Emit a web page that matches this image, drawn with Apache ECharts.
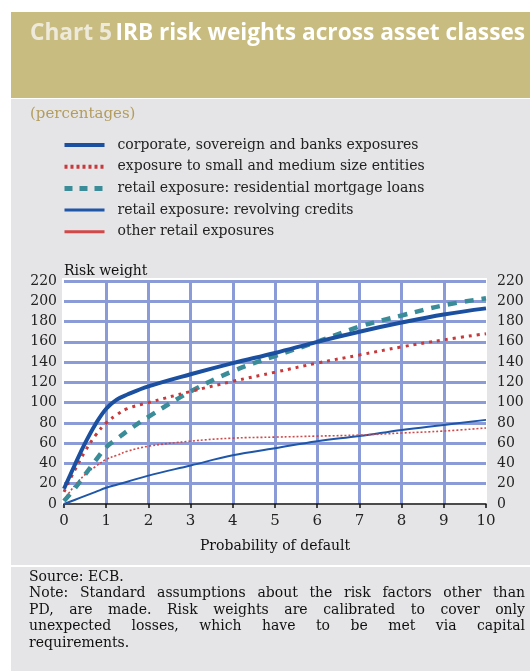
<!DOCTYPE html>
<html>
<head>
<meta charset="utf-8">
<script src="https://cdn.jsdelivr.net/npm/echarts@6/dist/echarts.min.js"></script>
<style>html,body{margin:0;padding:0;background:#fff;}#c{width:530px;height:671px;}</style>
</head>
<body>
<div id="c"></div>
<script>
// ---- data ----
var pd = [0, 0.25, 0.5, 0.75, 1, 1.25, 1.5, 2, 3, 4, 5, 6, 7, 8, 9, 10];
var corporate = [15, 38, 60, 79, 94, 103, 108, 116, 128, 139, 149, 160, 170, 179, 187, 193];
var sme       = [12, 33, 52, 68, 80, 88, 94, 100, 111, 121, 130, 139, 147, 155, 162, 168];
var mortgage  = [3, 15, 29, 43, 56, 64, 72, 86, 111, 131, 146, 160, 175, 186, 196, 203];
var revolving = [0, 4, 8, 12, 16, 19, 22, 28, 38, 48, 55, 62, 67, 73, 78, 83];
var otherRet  = [4, 18, 29, 37, 44, 48, 52, 57, 62, 65, 66, 67, 68, 70, 72, 75];
var seriesNames = [
  'corporate, sovereign and banks exposures',
  'exposure to small and medium size entities',
  'retail exposure: residential mortgage loans',
  'retail exposure: revolving credits',
  'other retail exposures'
];
var yTicks = [0, 20, 40, 60, 80, 100, 120, 140, 160, 180, 200, 220];
var xTicks = [0, 1, 2, 3, 4, 5, 6, 7, 8, 9, 10];
var titleA = 'Chart 5';
var titleB = 'IRB risk weights across asset classes';
var noteLines = [
  'Source: ECB.',
  'Note: Standard assumptions about the risk factors other than',
  'PD, are made. Risk weights are calibrated to cover only',
  'unexpected losses, which have to be met via capital',
  'requirements.'
];

function pairs(ys){ return pd.map(function(x,i){ return [x, ys[i]]; }); }

var SERIF = "'DejaVu Serif'";
var GRIDC = '#8a9bd8';

// justified footer
var canvas = document.createElement('canvas');
var ctx = canvas.getContext('2d');
var noteFont = '14px ' + SERIF;
ctx.font = noteFont;
var noteEls = [];
var nx0 = 29, nx1 = 525, ny0 = 578, nlh = 16.6;
noteLines.forEach(function(line, li){
  var y = ny0 + li * nlh;
  var justify = (li >= 1 && li <= 3);
  if (!justify) {
    noteEls.push({type:'text', left: nx0, top: y - 8, style:{text: line, font: noteFont, fill:'#111'}});
    return;
  }
  var words = line.split(' ');
  var widths = words.map(function(w){ return ctx.measureText(w).width; });
  var total = widths.reduce(function(a,b){return a+b;},0);
  var gap = (nx1 - nx0 - total) / (words.length - 1);
  var x = nx0;
  words.forEach(function(w, wi){
    noteEls.push({type:'text', left: x, top: y - 8, style:{text: w, font: noteFont, fill:'#111'}});
    x += widths[wi] + gap;
  });
});

var chart = echarts.init(document.getElementById('c'), null, {renderer:'canvas'});
chart.setOption({
  backgroundColor: '#ffffff',
  animation: false,
  graphic: [
    {type:'rect', left: 11, top: 12, shape:{width: 519, height: 86}, style:{fill:'#c9bc80'}, z: -10},
    {type:'rect', left: 11, top: 99, shape:{width: 519, height: 466}, style:{fill:'#e5e5e7'}, z: -10},
    {type:'rect', left: 11, top: 567, shape:{width: 519, height: 104}, style:{fill:'#e5e5e7'}, z: -10},
    {type:'rect', left: 62, top: 278, shape:{width: 425, height: 227}, style:{fill:'#ffffff'}, z: -5},
    {type:'text', left: 30, top: 22, style:{
      text: '{a|' + titleA + '} {b|' + titleB + '}',
      rich: {
        a: {font: "bold 22.7px 'Open Sans'", fill: '#eeeadb'},
        b: {font: "bold 22.7px 'Open Sans'", fill: '#ffffff'}
      }
    }},
    {type:'text', left: 30, top: 107, style:{text:'(percentages)', font: '15px ' + SERIF, fill:'#b39c5c'}}
  ].concat(noteEls),
  legend: {
    orient: 'vertical',
    left: 62, top: 138, padding: 0,
    itemWidth: 40, itemHeight: 14, itemGap: 7.7,
    itemStyle: {opacity: 0},
    textStyle: {fontFamily: 'DejaVu Serif', fontSize: 14, color: '#222', padding: [0,0,0,8]},
    data: [
      {name: seriesNames[0], lineStyle: {width: 4}},
      {name: seriesNames[1], lineStyle: {width: 4, type: [3, 3]}},
      {name: seriesNames[2], lineStyle: {width: 5, type: [8, 7]}},
      {name: seriesNames[3], lineStyle: {width: 3}},
      {name: seriesNames[4], lineStyle: {width: 3, type: 'solid'}}
    ]
  },
  grid: {left: 64, right: 44, top: 281, bottom: 167, show: false},
  xAxis: {
    type: 'value', min: 0, max: 10, interval: 1,
    name: 'Probability of default', nameLocation: 'middle', nameGap: 30,
    nameTextStyle: {fontFamily: 'DejaVu Serif', fontSize: 14, color: '#111'},
    offset: 5,
    axisLine: {show: true, lineStyle: {color: '#111', width: 1.5}},
    axisTick: {show: true, length: 4, lineStyle: {color: '#111', width: 1.5}},
    axisLabel: {fontFamily: 'DejaVu Serif', fontSize: 15, color: '#222', margin: 5,
      formatter: function(v){ return xTicks.indexOf(v) >= 0 ? String(v) : ''; }},
    splitLine: {show: true, showMinLine: false, showMaxLine: false, lineStyle: {color: GRIDC, width: 3}}
  },
  yAxis: [
    {
      type: 'value', min: 0, max: 220, interval: 20,
      name: 'Risk weight', nameLocation: 'end', nameGap: 3,
      nameTextStyle: {fontFamily: 'DejaVu Serif', fontSize: 14, color: '#111', align: 'left', verticalAlign: 'bottom'},
      axisLine: {show: false}, axisTick: {show: false},
      axisLabel: {fontFamily: 'DejaVu Serif', fontSize: 14, color: '#222', margin: 7,
        formatter: function(v){ return yTicks.indexOf(v) >= 0 ? String(v) : ''; }},
      splitLine: {show: true, showMinLine: false, showMaxLine: true, lineStyle: {color: GRIDC, width: 3}}
    },
    {
      type: 'value', min: 0, max: 220, interval: 20, position: 'right',
      axisLine: {show: false}, axisTick: {show: false},
      axisLabel: {fontFamily: 'DejaVu Serif', fontSize: 14, color: '#222', margin: 11,
        formatter: function(v){ return yTicks.indexOf(v) >= 0 ? String(v) : ''; }},
      splitLine: {show: false}
    }
  ],
  series: [
    {name: seriesNames[0], type: 'line', data: pairs(corporate), smooth: 0.4, symbol: 'none', z: 5,
      lineStyle: {color: '#1b4f9f', width: 4}, itemStyle: {color: '#1b4f9f'}},
    {name: seriesNames[1], type: 'line', data: pairs(sme), smooth: 0.4, symbol: 'none', z: 4,
      lineStyle: {color: '#c8393b', width: 3, type: [3, 5]}, itemStyle: {color: '#c8393b'}},
    {name: seriesNames[2], type: 'line', data: pairs(mortgage), smooth: 0.4, symbol: 'none', z: 3,
      lineStyle: {color: '#3a8c98', width: 4.5, type: [9, 8]}, itemStyle: {color: '#3a8c98'}},
    {name: seriesNames[3], type: 'line', data: pairs(revolving), smooth: 0.4, symbol: 'none', z: 2,
      lineStyle: {color: '#1f57a8', width: 2}, itemStyle: {color: '#1f57a8'}},
    {name: seriesNames[4], type: 'line', data: pairs(otherRet), smooth: 0.4, symbol: 'none', z: 2,
      lineStyle: {color: '#d04848', width: 1.6, type: [2, 2]}, itemStyle: {color: '#c83a3a'}}
  ]
});
</script>
</body>
</html>
